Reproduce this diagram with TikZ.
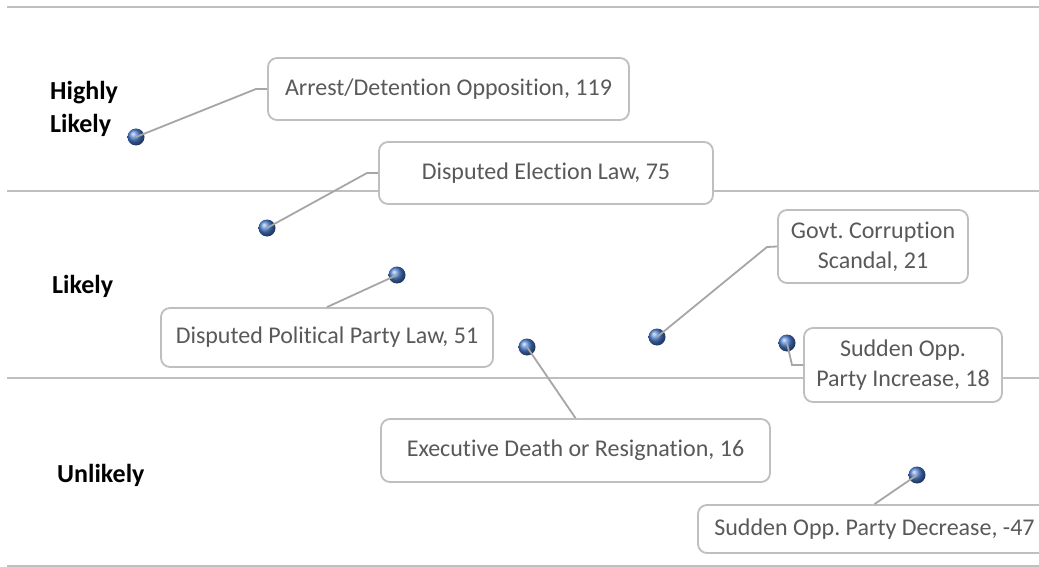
\documentclass[tikz,border=0pt]{standalone}
\usepackage{fontspec}
\setmainfont{Carlito}[Ligatures=NoCommon]
\frenchspacing
\definecolor{gridc}{HTML}{BFBFBF}
\definecolor{boxc}{HTML}{BFBFBF}
\definecolor{leadc}{HTML}{A6A6A6}
\definecolor{txtc}{HTML}{595959}
\definecolor{dotc}{HTML}{4A7DD0}
\begin{document}
\frenchspacing
\begin{tikzpicture}[x=1pt,y=-1pt,
  callout/.style={draw=boxc, line width=1.8pt, rounded corners=9pt, fill=white, text=txtc,
    font=\fontsize{24}{30}\selectfont, align=center, inner sep=0pt},
  lead/.style={draw=leadc, line width=1.8pt},
  gridline/.style={draw=gridc, line width=1.8pt},
  dot/.style={circle, minimum size=17pt, inner sep=0pt, shading=ball, ball color=dotc},
  cat/.style={font=\bfseries\fontsize{26}{33}\selectfont, align=left, inner sep=0pt, anchor=base west}]
\useasboundingbox (0,0) rectangle (1039,567);
\clip (0,0) rectangle (1039,567);
\fill[white] (0,0) rectangle (1039,567);
% grid lines
\draw[gridline] (7,7) -- (1039,7);
\draw[gridline] (7,191) -- (1039,191);
\draw[gridline] (7,378) -- (1039,378);
\draw[gridline] (7,566) -- (1039,566);
% category labels
\node[cat] (hl) at (50,133) {Highly\\Likely};
\node[cat] (lk) at (52,293) {Likely};
\node[cat] (ul) at (57,482) {Unlikely};
% callouts
\node[callout, minimum width=361pt, minimum height=62pt] (b1) at (448.5,89) {Arrest/Detention Opposition, 119};
\node[callout, minimum width=334pt, minimum height=62pt] (b2) at (546,173) {Disputed Election Law, 75};
\node[callout, minimum width=190pt, minimum height=73pt] (b3) at (873,246.5) {Govt. Corruption\\Scandal, 21};
\node[callout, minimum width=198pt, minimum height=74pt] (b4) at (903,365) {Sudden Opp.\\Party Increase, 18};
\node[callout, minimum width=332pt, minimum height=59pt] (b5) at (327,337.5) {Disputed Political Party Law, 51};
\node[callout, minimum width=389pt, minimum height=63pt] (b6) at (575.5,450.5) {Executive Death or Resignation, 16};
\node[callout, minimum width=353pt, minimum height=48pt] (b7) at (874.5,529) {Sudden Opp. Party Decrease, -47};
% dots
\node[dot] (d1) at (136,137) {};
\node[dot] (d2) at (267,228) {};
\node[dot] (d3) at (397,275) {};
\node[dot] (d4) at (527,347) {};
\node[dot] (d5) at (657,337) {};
\node[dot] (d6) at (787,343) {};
\node[dot] (d7) at (917,475) {};
% bends
\coordinate (k1) at (256,89);
\coordinate (k2) at (367,173);
\coordinate (k5) at (767,247);
\coordinate (k6) at (792,365);
% leaders
\draw[lead] (d1.center) -- (k1) -- (b1.west);
\draw[lead] (d2.center) -- (k2) -- (b2.west);
\draw[lead] (d3.center) -- (b5.north);
\draw[lead] (d4.center) -- (b6.north);
\draw[lead] (d5.center) -- (k5) -- (b3.west);
\draw[lead] (d6.center) -- (k6) -- (b4.west);
\draw[lead] (d7.center) -- (b7.north);
\end{tikzpicture}
\end{document}
